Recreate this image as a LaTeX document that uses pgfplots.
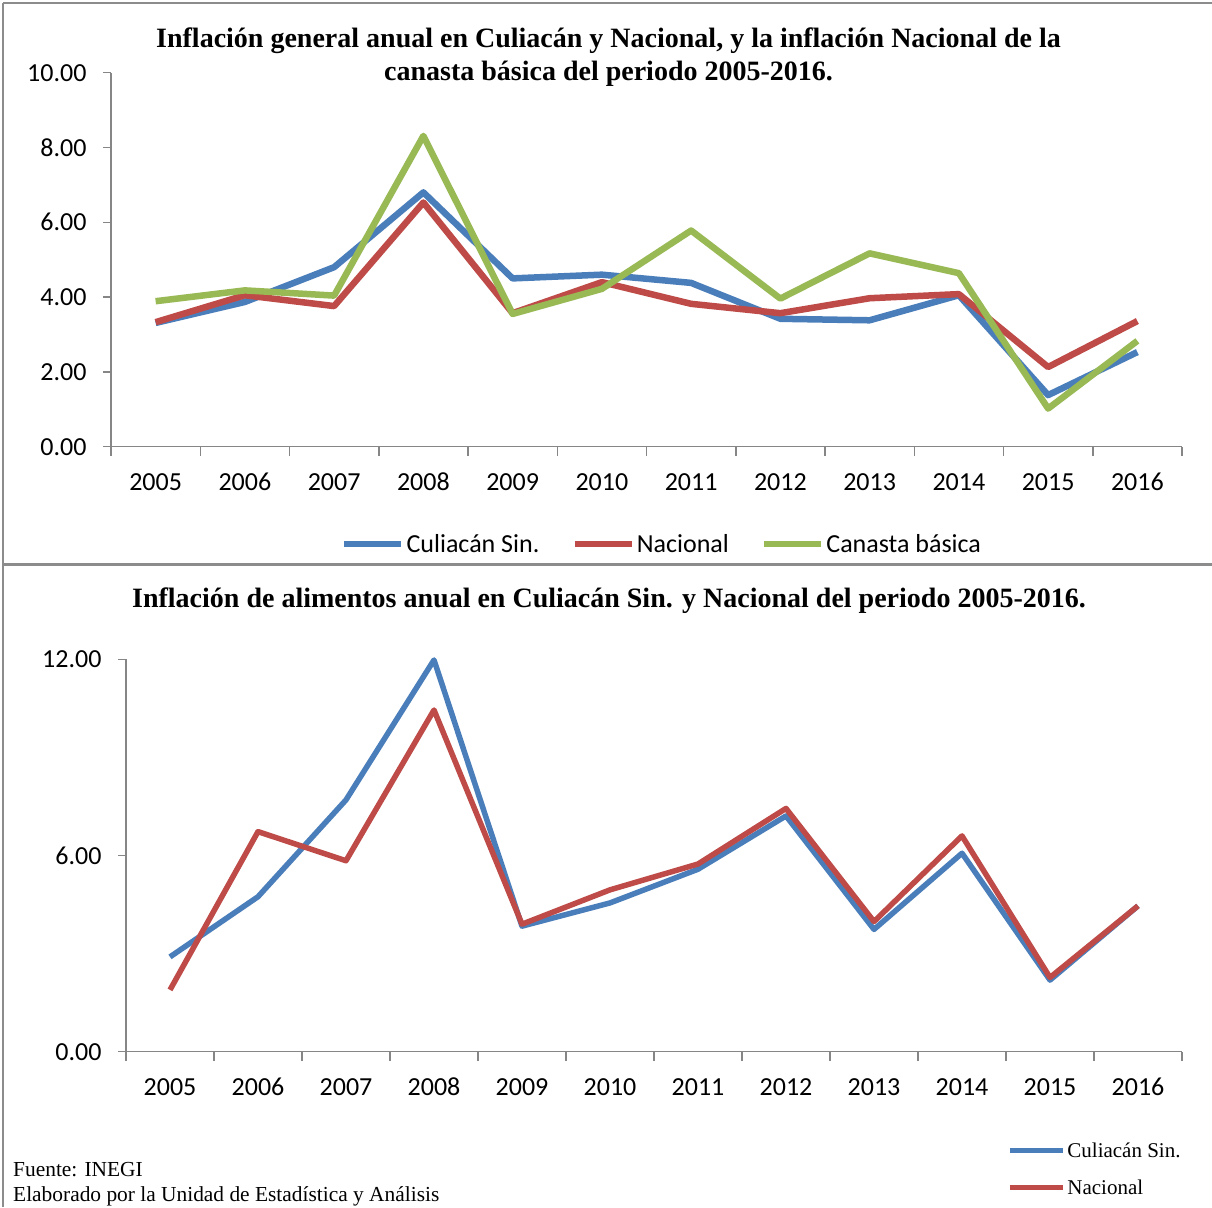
\documentclass[border=0pt]{standalone}
\usepackage{pgfplots}
\pgfplotsset{compat=1.18}
\usepackage{fontspec}
\setmainfont{Liberation Serif}
\newfontfamily\calibri{Carlito}
\definecolor{cblue}{HTML}{4A7EBB}
\definecolor{cred}{HTML}{BE4B48}
\definecolor{cgreen}{HTML}{98B954}
\definecolor{axgray}{HTML}{868686}
\definecolor{framegray}{HTML}{8C8C8C}
\pgfplotsset{
  myaxis/.style={
    scale only axis,
    axis x line*=bottom, axis y line*=left,
    axis line style={draw=axgray, line width=1.5pt},
    xmin=-0.5, xmax=11.5,
    xtick={0,1,2,3,4,5,6,7,8,9,10,11},
    xticklabels={2005,2006,2007,2008,2009,2010,2011,2012,2013,2014,2015,2016},
    major x tick style={draw=none},
    minor xtick={-0.5,0.5,1.5,2.5,3.5,4.5,5.5,6.5,7.5,8.5,9.5,10.5,11.5},
    minor x tick style={draw=axgray, line width=1.5pt},
    tick align=outside,
    major tick length=8pt, minor tick length=9pt,
    major y tick style={draw=axgray, line width=1.5pt},
    ymin=0,
    ticklabel style={font=\calibri\fontsize{26}{30}\selectfont, text=black},
    /pgf/number format/assume math mode=true,
    yticklabel style={/pgf/number format/fixed, /pgf/number format/fixed zerofill, /pgf/number format/precision=2, xshift=-13pt},
    xticklabel style={anchor=north, text height=17pt, text depth=0pt, yshift=-15pt},
    legend image code/.code={\draw[#1] (0pt,0pt) -- (57pt,0pt);},
    every axis plot/.append style={line join=round},
    clip=false,
  }
}
\begin{document}
\begin{tikzpicture}[x=1pt,y=1pt]
\useasboundingbox (0,0) rectangle (1212,-1207);
\fill[white] (0,0) rectangle (1212,-1207);
\draw[framegray, line width=2.5pt] (3,-3) -- (1212,-3);
\draw[framegray, line width=2.5pt] (3,-3) -- (3,-1207);
\draw[framegray, line width=3pt] (3,-564) -- (1212,-564);

\node[align=center, font=\bfseries\fontsize{28}{33}\selectfont] at (608.5,-57) {Inflación general anual en Culiacán y Nacional, y la inflación Nacional de la\\canasta básica del periodo 2005-2016.};

\begin{axis}[myaxis, at={(111pt,-446.7pt)}, anchor=south west,
  width=1071pt, height=374pt, ymax=10, ytick={0,2,4,6,8,10},
  legend style={draw=none, fill=none, font=\calibri\fontsize{26}{30}\selectfont,
    at={(0.5145,-0.26)}, anchor=center, inner sep=0pt,
    /tikz/every even column/.append style={column sep=30pt}},
  legend columns=3]
\addplot[cblue, line width=6.5pt] coordinates {(0,3.31) (1,3.87) (2,4.80) (3,6.80) (4,4.50) (5,4.60) (6,4.38) (7,3.42) (8,3.38) (9,4.05) (10,1.38) (11,2.53)};
\addplot[cred, line width=6.5pt] coordinates {(0,3.33) (1,4.05) (2,3.76) (3,6.53) (4,3.57) (5,4.40) (6,3.82) (7,3.57) (8,3.97) (9,4.08) (10,2.13) (11,3.36)};
\addplot[cgreen, line width=6.5pt] coordinates {(0,3.89) (1,4.18) (2,4.04) (3,8.31) (4,3.55) (5,4.22) (6,5.78) (7,3.96) (8,5.17) (9,4.64) (10,1.02) (11,2.83)};
\legend{Culiacán Sin.,Nacional,Canasta básica}
\end{axis}

\node[font=\bfseries\fontsize{28}{33}\selectfont] at (609,-601) {Inflación de alimentos anual en Culiacán Sin. y Nacional del periodo 2005-2016.};

\begin{axis}[myaxis, at={(126pt,-1051.7pt)}, anchor=south west,
  width=1056pt, height=392.4pt, ymax=12, ytick={0,6,12},
  legend style={draw=none, fill=none, font=\fontsize{21}{24}\selectfont,
    at={(0.834,-0.299)}, anchor=west, inner sep=0pt, row sep=17pt},
  legend image code/.code={\draw[#1] (0pt,0pt) -- (53pt,0pt);},
  legend cell align=left]
\addplot[cblue, line width=5.5pt] coordinates {(0,2.90) (1,4.74) (2,7.70) (3,11.98) (4,3.84) (5,4.55) (6,5.58) (7,7.21) (8,3.74) (9,6.07) (10,2.19) (11,4.46)};
\addplot[cred, line width=5.5pt] coordinates {(0,1.89) (1,6.73) (2,5.84) (3,10.45) (4,3.90) (5,4.95) (6,5.74) (7,7.44) (8,3.98) (9,6.60) (10,2.27) (11,4.46)};
\legend{Culiacán Sin.,Nacional}
\end{axis}

\node[anchor=base west, inner sep=0pt, font=\fontsize{21.4}{24}\selectfont] at (13,-1176) {Fuente: INEGI};
\node[anchor=base west, inner sep=0pt, font=\fontsize{21.4}{24}\selectfont] at (13,-1201) {Elaborado por la Unidad de Estadística y Análisis};
\end{tikzpicture}
\end{document}
